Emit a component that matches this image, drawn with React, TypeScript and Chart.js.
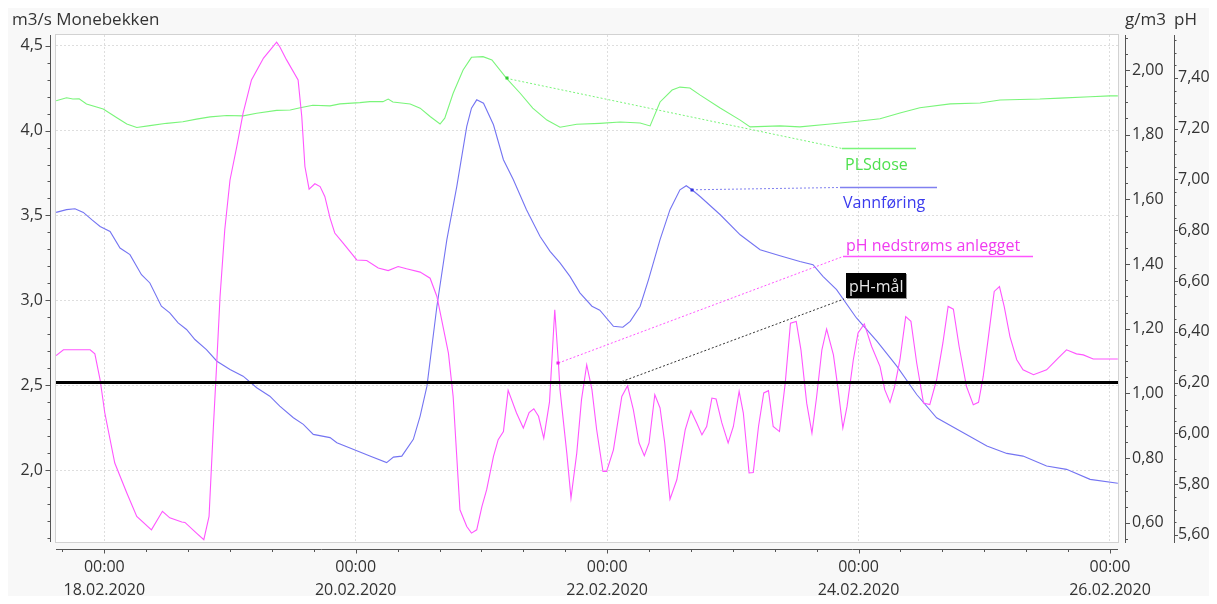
import React, { useEffect, useRef } from "react";
import { Chart, registerables } from "chart.js";

Chart.register(...registerables);

// ---- axis ranges (hours relative to 18.02.2020 00:00) ----
const X_MIN = -9.22;
const X_MAX = 193.53;
const FLOW_MIN = 1.576;
const FLOW_MAX = 4.563;
const DOSE_MIN = 0.541;
const DOSE_MAX = 2.108;
const PH_MIN = 5.572;
const PH_MAX = 7.569;

const xMajorHours = [0, 48, 96, 144, 192];
const xMajorDates = ["18.02.2020", "20.02.2020", "22.02.2020", "24.02.2020", "26.02.2020"];

// ---- Vannføring (m3/s) ----
const flowHours = [
  -9.2, -7.2, -5.6, -4.0, -2.4, -0.8, 1.1, 3.0, 4.9, 7.1, 8.7, 10.9, 12.5, 14.1, 15.7, 17.3, 19.5, 21.5,
  24.0, 26.5, 29.1, 31.6, 33.5, 36.1, 38.0, 39.9, 43.1, 44.4, 47.5, 50.7, 53.9, 55.2, 56.8, 59.0, 60.3,
  61.6, 63.5, 65.4, 67.3, 69.2, 70.1, 71.1, 72.4, 74.3, 76.2, 78.1, 80.6, 83.2, 85.1, 87.0, 88.9, 90.8,
  93.1, 94.6, 97.2, 99.0, 100.4, 102.3, 103.9, 106.1, 108.0, 109.9, 111.1, 112.2, 113.8, 117.6, 121.4,
  125.2, 129.0, 132.8, 135.3, 137.2, 139.8, 143.6, 147.5, 151.3, 155.1, 158.9, 164.0, 168.5, 172.3,
  175.4, 179.9, 183.7, 188.2, 193.5,
];
const flowValues = [
  3.518, 3.534, 3.539, 3.518, 3.475, 3.435, 3.406, 3.308, 3.269, 3.151, 3.102, 2.965, 2.926, 2.867, 2.828,
  2.769, 2.71, 2.641, 2.592, 2.553, 2.485, 2.435, 2.376, 2.308, 2.269, 2.21, 2.191, 2.161, 2.122, 2.082,
  2.044, 2.076, 2.082, 2.181, 2.318, 2.494, 2.965, 3.357, 3.671, 4.024, 4.132, 4.181, 4.161, 4.034, 3.828,
  3.71, 3.534, 3.376, 3.288, 3.22, 3.141, 3.044, 2.965, 2.942, 2.847, 2.841, 2.876, 2.965, 3.122, 3.357,
  3.534, 3.651, 3.675, 3.651, 3.61, 3.504, 3.386, 3.298, 3.263, 3.229, 3.21, 3.141, 3.063, 2.896, 2.759,
  2.612, 2.445, 2.308, 2.22, 2.141, 2.098, 2.082, 2.024, 2.004, 1.945, 1.922,
];

// ---- PLSdose (g/m3) ----
const doseHours = [
  -9.2, -7.2, -6.0, -4.8, -3.4, -0.2, 2.4, 4.3, 6.2, 8.7, 11.9, 15.0, 17.6, 20.2, 23.4, 26.5, 29.1, 32.9,
  35.5, 37.4, 39.8, 43.1, 45.0, 48.8, 50.7, 53.2, 54.2, 55.1, 58.4, 60.3, 62.2, 64.1, 65.0, 66.6, 68.5,
  70.1, 72.3, 74.0, 76.8, 79.4, 81.8, 84.5, 87.0, 90.2, 94.6, 98.5, 102.3, 104.2, 106.1, 108.4, 109.9,
  111.8, 113.7, 117.5, 121.4, 123.3, 129.0, 132.8, 138.6, 144.3, 148.1, 151.9, 155.7, 161.5, 167.2,
  171.0, 178.6, 182.5, 188.2, 192.0, 193.5,
];
const doseValues = [
  1.905, 1.914, 1.91, 1.911, 1.895, 1.879, 1.852, 1.833, 1.822, 1.828, 1.835, 1.84, 1.848, 1.855, 1.859,
  1.858, 1.866, 1.875, 1.876, 1.883, 1.891, 1.889, 1.895, 1.899, 1.902, 1.902, 1.91, 1.901, 1.895, 1.882,
  1.856, 1.833, 1.851, 1.928, 2.0, 2.039, 2.041, 2.031, 1.974, 1.928, 1.882, 1.845, 1.823, 1.832, 1.835,
  1.839, 1.836, 1.827, 1.901, 1.938, 1.947, 1.944, 1.923, 1.883, 1.845, 1.824, 1.827, 1.824, 1.833, 1.842,
  1.849, 1.867, 1.883, 1.895, 1.898, 1.907, 1.91, 1.913, 1.917, 1.92, 1.92,
];

// ---- pH nedstrøms anlegget ----
const phHours = [
  -9.2, -7.8, -2.7, -1.8, -0.8, 0.1, 2.0, 4.3, 6.2, 9.0, 11.1, 12.5, 14.8, 15.4, 17.6, 19.0, 20.0, 20.8,
  21.5, 22.1, 23.0, 24.0, 25.3, 26.5, 28.1, 30.4, 32.9, 33.5, 34.8, 37.0, 37.7, 38.3, 39.1, 40.2, 41.2,
  42.1, 43.1, 44.0, 45.6, 48.2, 50.1, 52.3, 54.2, 56.1, 57.7, 60.3, 62.2, 63.5, 65.7, 66.6, 67.9, 69.2,
  70.1, 71.1, 72.1, 73.0, 74.3, 75.2, 76.2, 77.1, 78.7, 80.0, 81.1, 82.0, 82.9, 83.9, 85.0, 86.0, 86.7,
  87.0, 88.3, 89.1, 90.2, 91.1, 92.1, 93.1, 94.0, 95.2, 95.9, 97.2, 98.8, 99.9, 101.0, 102.1, 103.1,
  104.0, 105.1, 106.1, 107.0, 108.0, 109.3, 110.9, 112.0, 113.1, 114.1, 115.0, 116.0, 116.8, 117.9,
  119.1, 120.1, 121.2, 122.0, 123.1, 123.9, 124.9, 125.9, 126.8, 127.7, 128.9, 130.0, 131.0, 132.1,
  133.0, 134.1, 135.1, 136.0, 137.0, 137.9, 139.2, 140.1, 141.0, 141.8, 143.0, 143.9, 145.1, 146.5,
  148.1, 149.0, 150.0, 150.9, 151.9, 153.0, 154.0, 155.1, 156.4, 157.6, 158.9, 160.1, 161.1, 162.1,
  163.2, 164.6, 165.9, 166.9, 167.8, 168.8, 169.9, 170.9, 171.8, 172.9, 174.2, 175.4, 177.4, 179.9,
  182.1, 183.7, 185.6, 186.9, 188.8, 193.5,
];
const phValues = [
  6.306, 6.329, 6.329, 6.313, 6.211, 6.08, 5.883, 5.765, 5.673, 5.62, 5.693, 5.667, 5.651, 5.649, 5.607,
  5.581, 5.673, 6.014, 6.29, 6.539, 6.802, 6.998, 7.13, 7.261, 7.392, 7.478, 7.541, 7.523, 7.471, 7.392,
  7.248, 7.051, 6.962, 6.983, 6.972, 6.933, 6.848, 6.789, 6.749, 6.683, 6.681, 6.651, 6.641, 6.657, 6.648,
  6.635, 6.611, 6.539, 6.316, 6.145, 5.699, 5.633, 5.607, 5.62, 5.712, 5.778, 5.909, 5.975, 6.007, 6.169,
  6.08, 6.021, 6.082, 6.097, 6.067, 5.981, 6.124, 6.487, 6.277, 6.172, 5.922, 5.745, 5.922, 6.132, 6.27,
  6.172, 6.014, 5.85, 5.85, 5.935, 6.145, 6.187, 6.093, 5.962, 5.912, 5.962, 6.152, 6.1, 5.962, 5.741,
  5.817, 6.014, 6.089, 6.041, 5.994, 6.027, 6.139, 6.135, 6.041, 5.962, 6.027, 6.165, 6.08, 5.844, 5.846,
  6.027, 6.159, 6.168, 6.027, 6.007, 6.198, 6.434, 6.441, 6.329, 6.119, 6.001, 6.145, 6.329, 6.411, 6.309,
  6.172, 6.021, 6.106, 6.29, 6.395, 6.431, 6.342, 6.263, 6.172, 6.122, 6.185, 6.29, 6.46, 6.441, 6.277,
  6.119, 6.113, 6.211, 6.356, 6.5, 6.489, 6.342, 6.185, 6.113, 6.122, 6.224, 6.381, 6.559, 6.578, 6.5,
  6.381, 6.29, 6.25, 6.231, 6.25, 6.296, 6.329, 6.313, 6.309, 6.293, 6.293,
];

// ---- pH-mål ----
const phTarget = 6.2;

// ---- colours / styles ----
const BG = "#f8f8f8";
const AXIS = "#555555";
const TEXT = "#333333";
const GRID = "#dedede";
const GREEN = "#7af57a";
const BLUE = "#7474f2";
const MAGENTA = "#ff55ff";
const FONT = "'Open Sans', 'Noto Sans', sans-serif";

// annotation labels (x in hours, y in m3/s axis units for the label position)
const annotations = [
  { text: "PLSdose", axis: "y1", ax: 76.8, ay: 1.974, lx: 140.8, ly: 3.895, len: 74, textDy: 21.5, color: GREEN, textColor: "#4ee04e", markerColor: "#33cc33" },
  { text: "Vannføring", axis: "y", ax: 112.2, ay: 3.651, lx: 140.5, ly: 3.669, len: 97, textDy: 20.5, color: "#8080f0", textColor: "#3a3aee", markerColor: "#3333dd" },
  { text: "pH nedstrøms anlegget", axis: "y2", ax: 86.7, ay: 6.277, lx: 141.0, ly: 3.261, len: 190, textDy: -6, color: MAGENTA, textColor: "#f03cf0", markerColor: "#ee22ee" },
];
const targetLabel = { text: "pH-mål", ax: 98.8, ay: phTarget, lx: 141.6, ly: 3.159 };

function stepTicks(min: number, max: number, step: number) {
  const out: { value: number }[] = [];
  const s = Math.ceil(min / step - 1e-9);
  const e = Math.floor(max / step + 1e-9);
  for (let i = s; i <= e; i++) out.push({ value: +(i * step).toFixed(6) });
  return out;
}
function isMajor(v: number, major: number) {
  return Math.abs(v / major - Math.round(v / major)) < 1e-6;
}
const comma = (v: number, d: number) => v.toFixed(d).replace(".", ",");

const pairs = (xs: number[], ys: number[]) => xs.map((x, i) => ({ x, y: ys[i] }));

const decorPlugin = {
  id: "decor",
  beforeDraw(chart: any) {
    const { ctx, chartArea: a } = chart;
    ctx.save();
    ctx.fillStyle = BG;
    ctx.fillRect(0, 0, chart.width, chart.height);
    ctx.fillStyle = "#ffffff";
    ctx.fillRect(a.left, a.top, a.right - a.left, a.bottom - a.top);
    ctx.restore();
  },
  afterDatasetsDraw(chart: any) {
    const { ctx, scales } = chart;
    const sx = scales.x;
    const sy = scales.y;
    ctx.save();
    ctx.font = `16px ${FONT}`;
    ctx.textBaseline = "alphabetic";
    ctx.textAlign = "left";
    for (const an of annotations) {
      const axp = sx.getPixelForValue(an.ax);
      const ayp = scales[an.axis].getPixelForValue(an.ay);
      const lxp = Math.round(sx.getPixelForValue(an.lx));
      const lyp = Math.round(sy.getPixelForValue(an.ly)) + 0.5;
      ctx.strokeStyle = an.color;
      ctx.lineWidth = 1;
      ctx.setLineDash([2, 2]);
      ctx.beginPath();
      ctx.moveTo(axp, ayp);
      ctx.lineTo(lxp, lyp);
      ctx.stroke();
      ctx.setLineDash([]);
      ctx.lineWidth = 1.5;
      ctx.beginPath();
      ctx.moveTo(lxp, lyp);
      ctx.lineTo(lxp + an.len, lyp);
      ctx.stroke();
      ctx.fillStyle = an.markerColor;
      ctx.fillRect(Math.round(axp) - 1.5, Math.round(ayp) - 1.5, 3, 3);
      ctx.fillStyle = an.textColor;
      ctx.fillText(an.text, lxp + 3, lyp + an.textDy);
    }
    // pH-mål
    const tx = sx.getPixelForValue(targetLabel.ax);
    const ty = scales.y2.getPixelForValue(targetLabel.ay);
    const bx = Math.round(sx.getPixelForValue(targetLabel.lx));
    const by = Math.round(sy.getPixelForValue(targetLabel.ly));
    const bw = 60;
    const bh = 25;
    ctx.strokeStyle = "#333333";
    ctx.lineWidth = 1;
    ctx.setLineDash([2, 2]);
    ctx.beginPath();
    ctx.moveTo(tx, ty - 1);
    ctx.lineTo(bx - 2, by + bh + 1);
    ctx.stroke();
    ctx.setLineDash([]);
    ctx.fillStyle = "#9a9a9a";
    ctx.fillRect(bx + 1, by + 1, bw, bh);
    ctx.fillStyle = "#000000";
    ctx.fillRect(bx, by, bw, bh);
    ctx.fillStyle = "#e6e6e6";
    ctx.fillText(targetLabel.text, bx + 3, by + 19);
    ctx.restore();
  },
  afterDraw(chart: any) {
    const { ctx, chartArea: a, scales } = chart;
    ctx.save();
    // plot frame
    ctx.strokeStyle = "#d2d2d2";
    ctx.lineWidth = 1;
    ctx.strokeRect(a.left - 0.5, a.top - 0.5, a.right - a.left + 1, a.bottom - a.top + 1);

    ctx.strokeStyle = AXIS;
    ctx.lineWidth = 1;
    const line = (x1: number, y1: number, x2: number, y2: number) => {
      ctx.beginPath();
      ctx.moveTo(x1, y1);
      ctx.lineTo(x2, y2);
      ctx.stroke();
    };
    // left axis
    const lx = a.left - 5.5;
    line(lx, a.top, lx, a.bottom);
    for (const t of scales.y.ticks) {
      const p = Math.round(scales.y.getPixelForValue(t.value)) + 0.5;
      line(lx - (isMajor(t.value, 0.5) ? 5 : 3), p, lx, p);
    }
    // bottom axis
    const by = a.bottom + 7.5;
    line(a.left, by, a.right, by);
    for (const t of scales.x.ticks) {
      const p = Math.round(scales.x.getPixelForValue(t.value)) + 0.5;
      line(p, by, p, by + (isMajor(t.value, 48) ? 4 : 2.5));
    }
    // right axis g/m3
    const r1 = a.right + 7.5;
    line(r1, a.top, r1, a.bottom + 1);
    for (const t of scales.y1.ticks) {
      const p = Math.round(scales.y1.getPixelForValue(t.value)) + 0.5;
      line(r1, p, r1 + (isMajor(t.value, 0.2) ? 4.5 : 2.5), p);
    }
    // right axis pH
    const r2 = Math.round(scales.y2.left) + 0.5;
    line(r2, a.top, r2, a.bottom + 1);
    for (const t of scales.y2.ticks) {
      const p = Math.round(scales.y2.getPixelForValue(t.value)) + 0.5;
      line(r2, p, r2 + (isMajor(t.value, 0.2) ? 3.5 : 2), p);
    }
    // titles
    ctx.fillStyle = TEXT;
    ctx.font = `17px ${FONT}`;
    ctx.textBaseline = "middle";
    ctx.textAlign = "left";
    ctx.fillText("m3/s Monebekken", 4, 12);
    ctx.fillText("g/m3", r1 - 0.5, 12);
    ctx.fillText("pH", r2 - 0.5, 12);
    ctx.restore();
  },
};

export default function App() {
  const ref = useRef<HTMLCanvasElement | null>(null);
  useEffect(() => {
    if (!ref.current) return;
    Chart.defaults.font.family = FONT;
    const chart = new Chart(ref.current, {
      type: "line",
      data: {
        datasets: [
          {
            label: "pH-mål",
            data: [
              { x: X_MIN, y: phTarget },
              { x: X_MAX, y: phTarget },
            ],
            yAxisID: "y2",
            borderColor: "#000000",
            borderWidth: 3,
            pointRadius: 0,
          },
          {
            label: "pH nedstrøms anlegget",
            data: pairs(phHours, phValues),
            yAxisID: "y2",
            borderColor: MAGENTA,
            borderWidth: 1.1,
            pointRadius: 0,
          },
          {
            label: "Vannføring",
            data: pairs(flowHours, flowValues),
            yAxisID: "y",
            borderColor: BLUE,
            borderWidth: 1.1,
            pointRadius: 0,
          },
          {
            label: "PLSdose",
            data: pairs(doseHours, doseValues),
            yAxisID: "y1",
            borderColor: GREEN,
            borderWidth: 1.1,
            pointRadius: 0,
          },
        ],
      },
      options: {
        responsive: false,
        animation: false,
        parsing: true,
        layout: { padding: { top: 27, left: 0, right: 0, bottom: 0 } },
        plugins: { legend: { display: false }, tooltip: { enabled: false } },
        elements: { line: { tension: 0 } },
        scales: {
          x: {
            type: "linear",
            min: X_MIN,
            max: X_MAX,
            afterBuildTicks: (s: any) => {
              s.ticks = stepTicks(X_MIN, X_MAX, 8);
            },
            afterFit: (s: any) => {
              s.height = 54;
            },
            grid: {
              drawTicks: false,
              color: (c: any) => (c.tick && isMajor(c.tick.value, 48) ? GRID : "rgba(0,0,0,0)"),
            },
            border: { display: false, dash: [2, 2] },
            ticks: {
              autoSkip: false,
              maxRotation: 0,
              minRotation: 0,
              padding: 14,
              color: TEXT,
              font: { size: 16, lineHeight: 1.44 },
              callback: (v: any) => {
                const i = xMajorHours.findIndex((h) => Math.abs(h - v) < 1e-6);
                return i >= 0 ? ["00:00", xMajorDates[i]] : "";
              },
            },
          },
          y: {
            type: "linear",
            position: "left",
            min: FLOW_MIN,
            max: FLOW_MAX,
            afterBuildTicks: (s: any) => {
              s.ticks = stepTicks(FLOW_MIN, FLOW_MAX, 0.1);
            },
            afterFit: (s: any) => {
              s.width = 48;
            },
            grid: {
              drawTicks: false,
              color: (c: any) => (c.tick && isMajor(c.tick.value, 0.5) ? GRID : "rgba(0,0,0,0)"),
            },
            border: { display: false, dash: [2, 2] },
            ticks: {
              autoSkip: false,
              padding: 13,
              color: TEXT,
              font: { size: 16 },
              callback: (v: any) => (isMajor(v, 0.5) ? comma(v, 1) : ""),
            },
          },
          y1: {
            type: "linear",
            position: "right",
            min: DOSE_MIN,
            max: DOSE_MAX,
            afterBuildTicks: (s: any) => {
              s.ticks = stepTicks(DOSE_MIN, DOSE_MAX, 0.05);
            },
            afterFit: (s: any) => {
              s.width = 56;
            },
            grid: { display: false, drawTicks: false, drawOnChartArea: false },
            border: { display: false },
            ticks: {
              autoSkip: false,
              padding: 14,
              color: TEXT,
              font: { size: 16 },
              callback: (v: any) => (isMajor(v, 0.2) ? comma(v, 2) : ""),
            },
          },
          y2: {
            type: "linear",
            position: "right",
            min: PH_MIN,
            max: PH_MAX,
            afterBuildTicks: (s: any) => {
              s.ticks = stepTicks(PH_MIN, PH_MAX, 0.05);
            },
            afterFit: (s: any) => {
              s.width = 35;
            },
            grid: { display: false, drawTicks: false, drawOnChartArea: false },
            border: { display: false },
            ticks: {
              autoSkip: false,
              padding: 4,
              color: TEXT,
              font: { size: 16 },
              callback: (v: any) => (isMajor(v, 0.2) ? comma(v, 2) : ""),
            },
          },
        },
      },
      plugins: [decorPlugin],
    } as any);
    return () => chart.destroy();
  }, []);
  return <canvas ref={ref} width={1201} height={588} style={{ display: "block" }} />;
}
